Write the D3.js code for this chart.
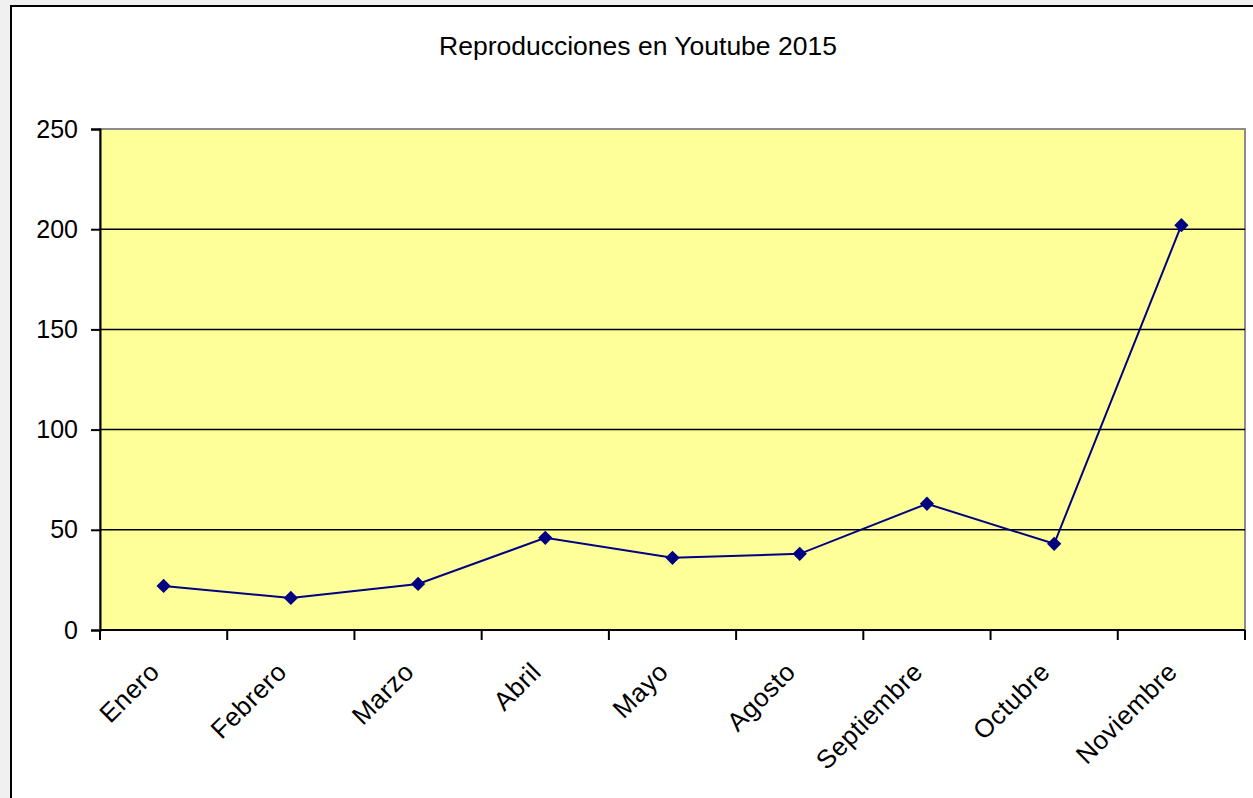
<!DOCTYPE html>
<html><head><meta charset="utf-8">
<script src="https://cdn.jsdelivr.net/npm/d3@7"></script>
<style>html,body{margin:0;padding:0;background:#f0f0f0;overflow:hidden}</style>
</head><body>
<svg id="c" width="1253" height="798"></svg>
<script>
const title = "Reproducciones en Youtube 2015";
const categories = ["Enero","Febrero","Marzo","Abril","Mayo","Agosto","Septiembre","Octubre","Noviembre"];
const values = [22, 16, 23, 46, 36, 38, 63, 43, 202];
const yTicks = [0, 50, 100, 150, 200, 250];

const svg = d3.select("#c");
const font = "'Liberation Sans', Arial, sans-serif";
// chart frame
svg.append("rect").attr("x",11).attr("y",6).attr("width",1260).attr("height",820)
  .attr("fill","#fff").attr("stroke","#000").attr("stroke-width",2);

const m = {left:100, top:129, right:1245, bottom:630};
const x = d3.scaleBand().domain(categories).range([m.left, m.right]);
const y = d3.scaleLinear().domain([0,250]).range([m.bottom, m.top]);

svg.append("rect").attr("x",m.left).attr("y",m.top).attr("width",m.right-m.left).attr("height",m.bottom-m.top)
  .attr("fill","#ffff99").attr("stroke","#8c8c8c").attr("stroke-width",2);

// gridlines
svg.append("g").selectAll("line").data(yTicks.filter(d=>d>0 && d<250)).join("line")
  .attr("x1",m.left).attr("x2",m.right).attr("y1",d=>y(d)).attr("y2",d=>y(d))
  .attr("stroke","#000").attr("stroke-width",1.5);

// y axis
const ya = svg.append("g").attr("transform",`translate(${m.left},0)`)
  .call(d3.axisLeft(y).tickValues(yTicks).tickSize(9).tickPadding(13));
ya.select(".domain").attr("stroke","#000").attr("stroke-width",2);
ya.selectAll(".tick line").attr("stroke","#000").attr("stroke-width",2);
ya.selectAll("text").attr("font-family",font).attr("font-size",25).attr("fill","#000");

// x axis
const xa = svg.append("g").attr("transform",`translate(0,${m.bottom})`)
  .call(d3.axisBottom(x).tickSize(0).tickFormat(""));
xa.select(".domain").remove();
svg.append("line").attr("x1",m.left).attr("x2",m.right).attr("y1",m.bottom).attr("y2",m.bottom)
  .attr("stroke","#000").attr("stroke-width",2);
const edges = categories.map(c=>x(c)).concat([m.right]);
svg.append("g").selectAll("line").data(edges).join("line")
  .attr("x1",d=>d).attr("x2",d=>d).attr("y1",m.bottom).attr("y2",m.bottom+10)
  .attr("stroke","#000").attr("stroke-width",2);

svg.append("g").selectAll("text").data(categories).join("text")
  .attr("font-family",font).attr("font-size",26).attr("fill","#000")
  .attr("text-anchor","end").attr("letter-spacing","0.5")
  .attr("transform",d=>`translate(${x(d)+x.bandwidth()/2-9},${m.bottom+37}) rotate(-45)`)
  .attr("dy","0.35em")
  .text(d=>d);

// line
const cx = d => x(d)+x.bandwidth()/2;
svg.append("path").datum(values)
  .attr("fill","none").attr("stroke","#000080").attr("stroke-width",2)
  .attr("d", d3.line().x((d,i)=>cx(categories[i])).y(d=>y(d)));
svg.append("g").selectAll("path").data(values).join("path")
  .attr("transform",(d,i)=>`translate(${cx(categories[i])},${y(d)})`)
  .attr("d", d3.symbol(d3.symbolDiamond2, 130))
  .attr("fill","#000080");

// title
svg.append("text").attr("x",638).attr("y",55).attr("text-anchor","middle")
  .attr("font-family",font).attr("font-size",26.5).attr("fill","#000").text(title);
</script>
</body></html>
